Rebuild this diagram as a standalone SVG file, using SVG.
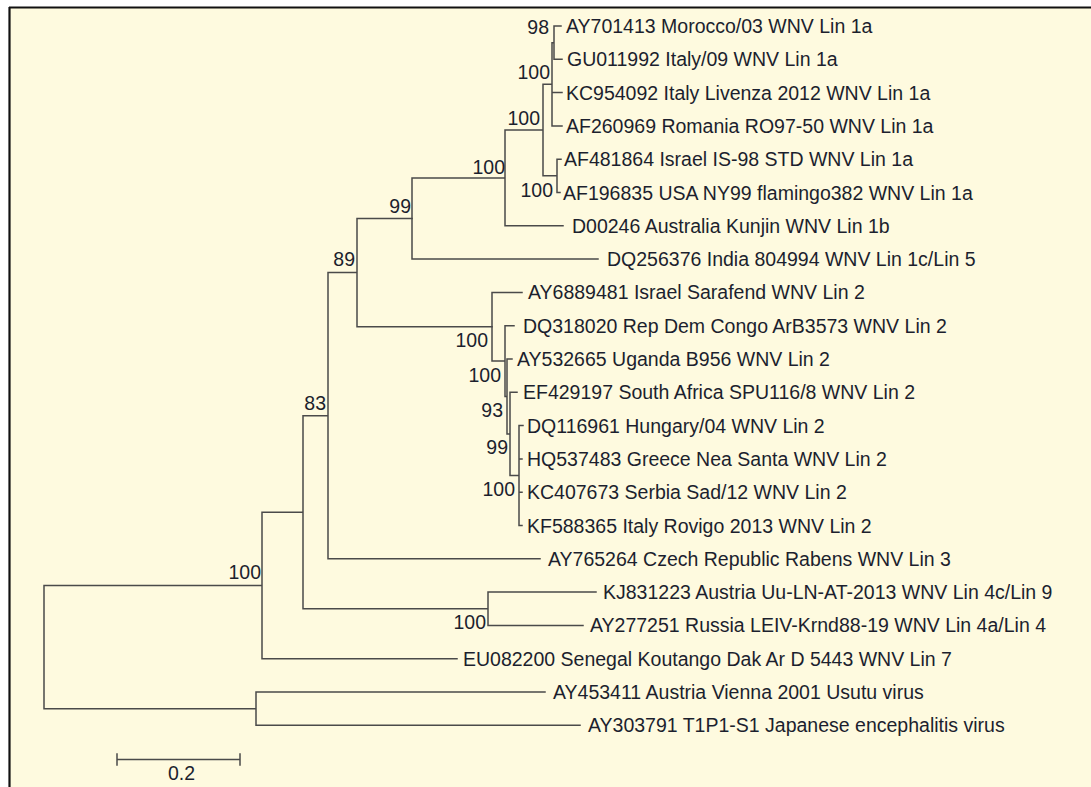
<svg xmlns="http://www.w3.org/2000/svg" width="1091" height="787" viewBox="0 0 1091 787">
<style>
.t{font-family:"Liberation Sans",Arial,sans-serif;font-size:19.5px;fill:#1c1f2e}
.b{font-family:"Liberation Sans",Arial,sans-serif;font-size:19.5px;fill:#1c1f2e;text-anchor:end}
.e{fill:none;stroke:#4a4a4a;stroke-width:1.5;stroke-linecap:square}
</style>
<rect x="0" y="0" width="1091" height="787" fill="#ffffff"/>
<rect x="9" y="7" width="1090" height="790" fill="#fefadf"/>
<path d="M9,7.5H1091M9.5,7V787" fill="none" stroke="#111" stroke-width="2.2"/>
<g id="connectors" class="e">
<path class="e" d="M554,26V59.3M554,26H561M554,59.3H562M552,42.65V125.9M552,42.65H554M552,92.6H562M552,125.9H562M557,159.2V192.5M557,159.2H561M557,192.5H560M543,84.3V175.85M543,84.3H552M543,175.85H557M505,130.1V225.8M505,130.1H543M505,225.8H563M412,177.9V259.1M412,177.9H505M412,259.1H598"/>
<path class="e" d="M519,425.6V525.5M519,425.6H523M519,458.9H522M519,492.2H522M519,525.5H522M510,392.3V475.5M510,392.3H517M510,475.5H519M507,359V433.9M507,359H512M507,433.9H510M505,325.7V396.5M505,325.7H514M505,396.5H507M492,292.4V361.1M492,292.4H522M492,361.1H505"/>
<path class="e" d="M357,218.5V326.8M357,218.5H412M357,326.8H492M328,272.6V558.8M328,272.6H357M328,558.8H540M488,592.1V625.4M488,592.1H596M488,625.4H583M303,415.7V608.8M303,415.7H328M303,608.8H488M262,512.2V658.7M262,512.2H303M262,658.7H457M256,692V725.3M256,692H545M256,725.3H580M44,585.5V708.7M44,585.5H262M44,708.7H256"/>
</g>
<g id="leaf1"><text class="t" x="566" y="33">AY701413 Morocco/03 WNV Lin 1a</text></g>
<g id="leaf2"><text class="t" x="567" y="66.3">GU011992 Italy/09 WNV Lin 1a</text></g>
<g id="leaf3"><text class="t" x="566" y="99.6">KC954092 Italy Livenza 2012 WNV Lin 1a</text></g>
<g id="leaf4"><text class="t" x="566" y="132.9">AF260969 Romania RO97-50 WNV Lin 1a</text></g>
<g id="leaf5"><text class="t" x="564" y="166.2">AF481864 Israel IS-98 STD WNV Lin 1a</text></g>
<g id="leaf6"><text class="t" x="563" y="199.5">AF196835 USA NY99 flamingo382 WNV Lin 1a</text></g>
<g id="leaf7"><text class="t" x="572" y="232.8">D00246 Australia Kunjin WNV Lin 1b</text></g>
<g id="leaf8"><text class="t" x="607" y="266.1">DQ256376 India 804994 WNV Lin 1c/Lin 5</text></g>
<g id="leaf9"><text class="t" x="528" y="299.4">AY6889481 Israel Sarafend WNV Lin 2</text></g>
<g id="leaf10"><text class="t" x="523" y="332.7">DQ318020 Rep Dem Congo ArB3573 WNV Lin 2</text></g>
<g id="leaf11"><text class="t" x="517" y="366">AY532665 Uganda B956 WNV Lin 2</text></g>
<g id="leaf12"><text class="t" x="523" y="399.3">EF429197 South Africa SPU116/8 WNV Lin 2</text></g>
<g id="leaf13"><text class="t" x="527" y="432.6">DQ116961 Hungary/04 WNV Lin 2</text></g>
<g id="leaf14"><text class="t" x="527" y="465.9">HQ537483 Greece Nea Santa WNV Lin 2</text></g>
<g id="leaf15"><text class="t" x="527" y="499.2">KC407673 Serbia Sad/12 WNV Lin 2</text></g>
<g id="leaf16"><text class="t" x="527" y="532.5">KF588365 Italy Rovigo 2013 WNV Lin 2</text></g>
<g id="leaf17"><text class="t" x="548" y="565.8">AY765264 Czech Republic Rabens WNV Lin 3</text></g>
<g id="leaf18"><text class="t" x="603" y="599.1">KJ831223 Austria Uu-LN-AT-2013 WNV Lin 4c/Lin 9</text></g>
<g id="leaf19"><text class="t" x="590" y="632.4">AY277251 Russia LEIV-Krnd88-19 WNV Lin 4a/Lin 4</text></g>
<g id="leaf20"><text class="t" x="463" y="665.7">EU082200 Senegal Koutango Dak Ar D 5443 WNV Lin 7</text></g>
<g id="leaf21"><text class="t" x="553" y="699">AY453411 Austria Vienna 2001 Usutu virus</text></g>
<g id="leaf22"><text class="t" x="588" y="732.3">AY303791 T1P1-S1 Japanese encephalitis virus</text></g>
<g id="nodeA"><text class="b" x="549" y="34">98</text></g>
<g id="nodeB"><text class="b" x="550" y="79">100</text></g>
<g id="nodeC"><text class="b" x="540" y="125">100</text></g>
<g id="nodeE"><text class="b" x="553" y="197">100</text></g>
<g id="nodeD"><text class="b" x="505" y="174">100</text></g>
<g id="nodeF"><text class="b" x="411" y="213">99</text></g>
<g id="nodeL"><text class="b" x="355" y="266">89</text></g>
<g id="nodeM"><text class="b" x="326" y="410">83</text></g>
<g id="nodeG"><text class="b" x="488" y="347">100</text></g>
<g id="nodeH"><text class="b" x="501" y="382">100</text></g>
<g id="nodeI"><text class="b" x="503" y="417">93</text></g>
<g id="nodeJ"><text class="b" x="508" y="454">99</text></g>
<g id="nodeK"><text class="b" x="515" y="496">100</text></g>
<g id="nodeO"><text class="b" x="486" y="629">100</text></g>
<g id="nodeP"><text class="b" x="261" y="579">100</text></g>
<g id="scale">
<path class="e" d="M117,759.5H240M117,754V765M240,754V765"/>
<text class="t" x="181.5" y="780" text-anchor="middle">0.2</text>
</g>
</svg>
